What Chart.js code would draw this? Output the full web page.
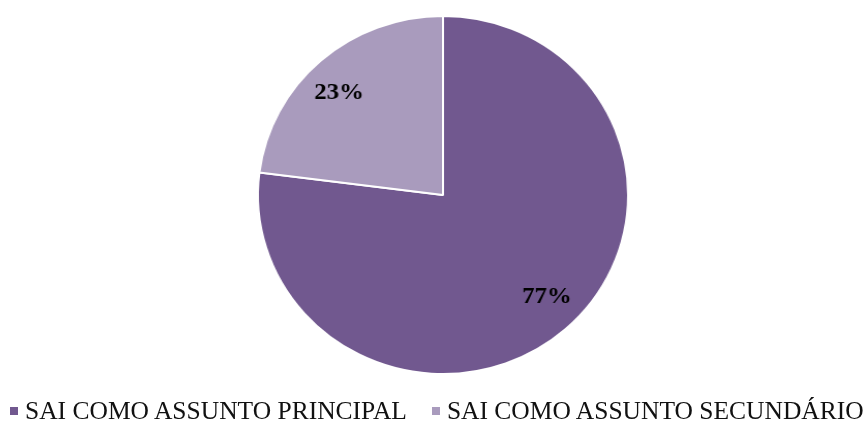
<!DOCTYPE html>
<html>
<head>
<meta charset="utf-8">
<script src="https://cdn.jsdelivr.net/npm/chart.js@4/dist/chart.umd.min.js"></script>
<style>
  html, body { margin: 0; padding: 0; background: #fff; overflow: hidden; }
  #wrap { position: relative; width: 864px; height: 421px; overflow: hidden; }
  /* the original pie is a little wider than tall */
  #pieChart { transform-origin: 443px 195px; transform: scaleX(1.034); }
  #legend {
    position: absolute; left: 10px; top: 398px;
    display: flex; align-items: center;
    font-family: "Liberation Serif", "Times New Roman", serif;
    font-size: 25.5px; line-height: 26px; color: #111; white-space: nowrap;
  }
  #legend .item { display: flex; align-items: center; margin-right: 25px; }
  #legend .box { width: 8px; height: 8px; margin-right: 7px; }
</style>
</head>
<body>
<div id="wrap">
  <canvas id="pieChart"></canvas>
  <div id="legend"></div>
</div>
<script>
var categories = ['SAI COMO ASSUNTO PRINCIPAL', 'SAI COMO ASSUNTO SECUNDÁRIO'];
var shares = [77, 23];
var sliceColors = ['#71588F', '#A99BBD'];

// percent labels inside each slice (no datalabels plugin available)
var sliceLabels = {
    id: 'sliceLabels',
    afterDatasetsDraw: function (chart) {
        var ctx = chart.ctx;
        var meta = chart.getDatasetMeta(0);
        ctx.save();
        ctx.font = 'bold 24px "Liberation Serif", "Times New Roman", serif';
        ctx.fillStyle = '#000';
        ctx.textAlign = 'center';
        ctx.textBaseline = 'middle';
        meta.data.forEach(function (arc, i) {
            var p = arc.getProps(['x', 'y', 'startAngle', 'endAngle', 'outerRadius']);
            var mid = (p.startAngle + p.endAngle) / 2;
            var x = p.x + Math.cos(mid) * p.outerRadius * 0.85;
            var y = p.y + Math.sin(mid) * p.outerRadius * 0.76;
            ctx.fillText(shares[i] + '%', x, y);
        });
        ctx.restore();
    }
};

// legend as html so the spacing can follow the original
var htmlLegend = {
    id: 'htmlLegend',
    afterUpdate: function (chart) {
        var box = document.getElementById('legend');
        box.innerHTML = '';
        var items = chart.options.plugins.legend.labels.generateLabels(chart);
        items.forEach(function (item) {
            var el = document.createElement('div');
            el.className = 'item';
            var sw = document.createElement('span');
            sw.className = 'box';
            sw.style.background = item.fillStyle;
            var tx = document.createElement('span');
            tx.textContent = item.text;
            el.appendChild(sw);
            el.appendChild(tx);
            box.appendChild(el);
        });
    }
};

new Chart(document.getElementById('pieChart').getContext('2d'), {
    type: 'pie',
    data: {
        labels: categories,
        datasets: [{
            data: shares,
            backgroundColor: sliceColors,
            borderColor: '#fff',
            borderWidth: 2
        }]
    },
    options: {
        responsive: true,
        maintainAspectRatio: false,
        animation: false,
        layout: { padding: { top: 15, bottom: 46, left: 22, right: 0 } },
        plugins: {
            tooltip: { enabled: false },
            legend: { display: false }
        }
    },
    plugins: [sliceLabels, htmlLegend]
});
</script>
</body>
</html>
